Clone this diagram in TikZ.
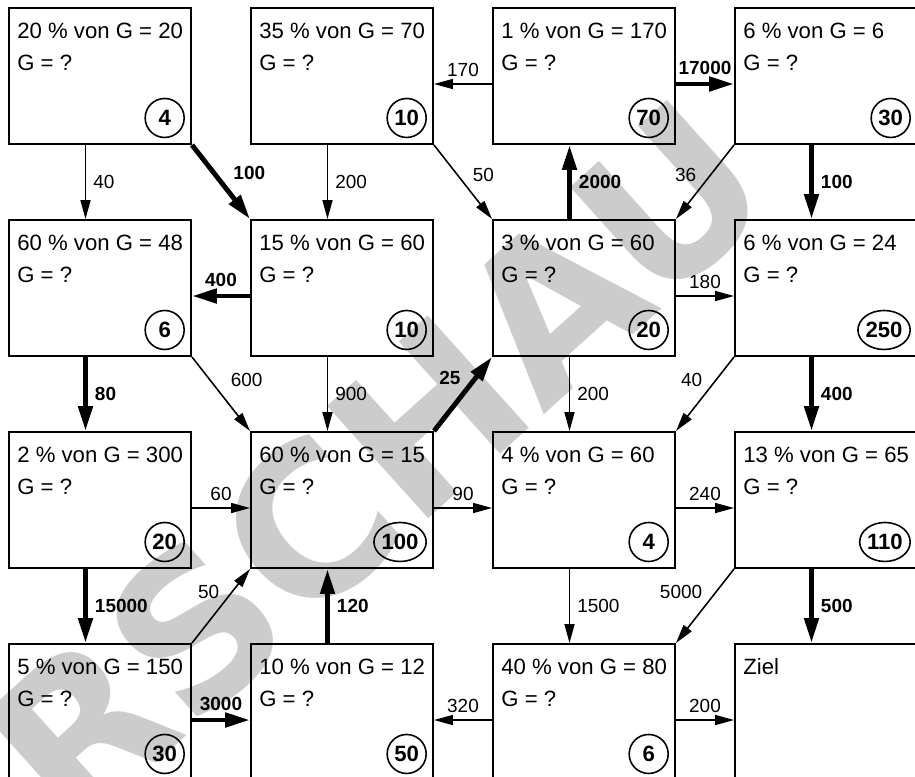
\documentclass[tikz,border=0pt]{standalone}
\usepackage{fontspec}
\setmainfont{Liberation Sans}
\newfontfamily\wzfont{DejaVu Sans}
\definecolor{wzgrau}{HTML}{CCCCCC}
\usetikzlibrary{positioning,arrows.meta,shapes.geometric,backgrounds}

\begin{document}
\begin{tikzpicture}[
  every node/.style={font=\fontsize{10.8}{13}\selectfont},
  feld/.style={rectangle, draw, line width=1.1pt, minimum width=3.64cm,
               minimum height=2.72cm, inner sep=0pt},
  aufg/.style={anchor=base west, align=left, inner sep=0pt,
               font=\fontsize{12.6}{18.2}\selectfont},
  zahl/.style={ellipse, draw, line width=0.9pt, minimum size=0.78cm, inner sep=0pt,
               anchor=east, font=\bfseries\fontsize{12.6}{14}\selectfont},
  duenn/.style={-{Triangle[length=0.38cm, width=0.2cm]}, line width=0.9pt},
  dick/.style={-{Triangle[length=0.5cm, width=0.28cm]}, line width=2.8pt},
  wert/.style={inner sep=0pt},
  fett/.style={inner sep=0pt, font=\bfseries\fontsize{10.8}{13}\selectfont}
]
  \useasboundingbox (0,0) rectangle (18.3,-15.52);

  \begin{scope}[on background layer]
    \node[rotate=42, text=wzgrau, inner sep=0pt,
          font=\wzfont\bfseries\fontsize{118}{118}\selectfont] (vorschau) at (5.06,-11.50) {VORSCHAU};
  \end{scope}

  \node[feld] (f11) at (2.00,-1.52) {};
  \node[aufg] (f11a) at ([shift={(0.18,-1.26)}]f11.north west) {20 \% von G = 20\\G = ?};
  \node[zahl] (f11z) at ([shift={(-0.14,0.54)}]f11.south east) {4};
  \node[feld] (f12) at (6.84,-1.52) {};
  \node[aufg] (f12a) at ([shift={(0.18,-1.26)}]f12.north west) {35 \% von G = 70\\G = ?};
  \node[zahl] (f12z) at ([shift={(-0.14,0.54)}]f12.south east) {10};
  \node[feld] (f13) at (11.68,-1.52) {};
  \node[aufg] (f13a) at ([shift={(0.18,-1.26)}]f13.north west) {1 \% von G = 170\\G = ?};
  \node[zahl] (f13z) at ([shift={(-0.14,0.54)}]f13.south east) {70};
  \node[feld] (f14) at (16.52,-1.52) {};
  \node[aufg] (f14a) at ([shift={(0.18,-1.26)}]f14.north west) {6 \% von G = 6\\G = ?};
  \node[zahl] (f14z) at ([shift={(-0.14,0.54)}]f14.south east) {30};

  \node[feld] (f21) at (2.00,-5.76) {};
  \node[aufg] (f21a) at ([shift={(0.18,-1.26)}]f21.north west) {60 \% von G = 48\\G = ?};
  \node[zahl] (f21z) at ([shift={(-0.14,0.54)}]f21.south east) {6};
  \node[feld] (f22) at (6.84,-5.76) {};
  \node[aufg] (f22a) at ([shift={(0.18,-1.26)}]f22.north west) {15 \% von G = 60\\G = ?};
  \node[zahl] (f22z) at ([shift={(-0.14,0.54)}]f22.south east) {10};
  \node[feld] (f23) at (11.68,-5.76) {};
  \node[aufg] (f23a) at ([shift={(0.18,-1.26)}]f23.north west) {3 \% von G = 60\\G = ?};
  \node[zahl] (f23z) at ([shift={(-0.14,0.54)}]f23.south east) {20};
  \node[feld] (f24) at (16.52,-5.76) {};
  \node[aufg] (f24a) at ([shift={(0.18,-1.26)}]f24.north west) {6 \% von G = 24\\G = ?};
  \node[zahl] (f24z) at ([shift={(-0.14,0.54)}]f24.south east) {250};

  \node[feld] (f31) at (2.00,-10.00) {};
  \node[aufg] (f31a) at ([shift={(0.18,-1.26)}]f31.north west) {2 \% von G = 300\\G = ?};
  \node[zahl] (f31z) at ([shift={(-0.14,0.54)}]f31.south east) {20};
  \node[feld] (f32) at (6.84,-10.00) {};
  \node[aufg] (f32a) at ([shift={(0.18,-1.26)}]f32.north west) {60 \% von G = 15\\G = ?};
  \node[zahl] (f32z) at ([shift={(-0.14,0.54)}]f32.south east) {100};
  \node[feld] (f33) at (11.68,-10.00) {};
  \node[aufg] (f33a) at ([shift={(0.18,-1.26)}]f33.north west) {4 \% von G = 60\\G = ?};
  \node[zahl] (f33z) at ([shift={(-0.14,0.54)}]f33.south east) {4};
  \node[feld] (f34) at (16.52,-10.00) {};
  \node[aufg] (f34a) at ([shift={(0.18,-1.26)}]f34.north west) {13 \% von G = 65\\G = ?};
  \node[zahl] (f34z) at ([shift={(-0.14,0.54)}]f34.south east) {110};

  \node[feld] (f41) at (2.00,-14.24) {};
  \node[aufg] (f41a) at ([shift={(0.18,-1.26)}]f41.north west) {5 \% von G = 150\\G = ?};
  \node[zahl] (f41z) at ([shift={(-0.14,0.54)}]f41.south east) {30};
  \node[feld] (f42) at (6.84,-14.24) {};
  \node[aufg] (f42a) at ([shift={(0.18,-1.26)}]f42.north west) {10 \% von G = 12\\G = ?};
  \node[zahl] (f42z) at ([shift={(-0.14,0.54)}]f42.south east) {50};
  \node[feld] (f43) at (11.68,-14.24) {};
  \node[aufg] (f43a) at ([shift={(0.18,-1.26)}]f43.north west) {40 \% von G = 80\\G = ?};
  \node[zahl] (f43z) at ([shift={(-0.14,0.54)}]f43.south east) {6};
  \node[feld] (f44) at (16.52,-14.24) {};
  \node[aufg] (f44a) at ([shift={(0.18,-0.62)}]f44.north west) {Ziel};

  \draw[duenn] ([xshift=-0.29cm]f11.south) -- node[wert, right=0.14cm]{40} ([xshift=-0.29cm]f21.north);
  \draw[dick] (f11.south east) -- node[fett, above right=0cm and 0.2cm]{100} (f22.north west);
  \draw[duenn] ([xshift=-0.29cm]f12.south) -- node[wert, right=0.14cm]{200} ([xshift=-0.29cm]f22.north);
  \draw[duenn] ([yshift=-0.16cm]f13.west) -- node[wert, above=0.14cm]{170} ([yshift=-0.16cm]f12.east);
  \draw[duenn] (f12.south east) -- node[wert, above right=0cm and 0.18cm]{50} (f23.north west);
  \draw[dick] ([xshift=-0.29cm]f23.north) -- node[fett, right=0.14cm]{2000} ([xshift=-0.29cm]f13.south);
  \draw[dick] ([yshift=-0.16cm]f13.east) -- node[fett, above=0.14cm]{17000} ([yshift=-0.16cm]f14.west);
  \draw[duenn] (f14.south west) -- node[wert, above left=0cm and 0.16cm]{36} (f23.north east);
  \draw[dick] ([xshift=-0.29cm]f14.south) -- node[fett, right=0.14cm]{100} ([xshift=-0.29cm]f24.north);

  \draw[dick] ([yshift=-0.16cm]f22.west) -- node[fett, above=0.14cm]{400} ([yshift=-0.16cm]f21.east);
  \draw[dick] ([xshift=-0.29cm]f21.south) -- node[fett, right=0.14cm]{80} ([xshift=-0.29cm]f31.north);
  \draw[duenn] (f21.south east) -- node[wert, above right=0.14cm and 0.18cm]{600} (f32.north west);
  \draw[duenn] ([xshift=-0.29cm]f22.south) -- node[wert, right=0.14cm]{900} ([xshift=-0.29cm]f32.north);
  \draw[dick] (f32.north east) -- node[fett, above left=0.14cm and 0cm]{25} (f23.south west);
  \draw[duenn] ([yshift=-0.16cm]f23.east) -- node[wert, above=0.14cm]{180} ([yshift=-0.16cm]f24.west);
  \draw[duenn] ([xshift=-0.29cm]f23.south) -- node[wert, right=0.14cm]{200} ([xshift=-0.29cm]f33.north);
  \draw[duenn] (f24.south west) -- node[wert, above left=0.14cm and 0.04cm]{40} (f33.north east);
  \draw[dick] ([xshift=-0.29cm]f24.south) -- node[fett, right=0.14cm]{400} ([xshift=-0.29cm]f34.north);

  \draw[duenn] ([yshift=-0.16cm]f31.east) -- node[wert, above=0.14cm]{60} ([yshift=-0.16cm]f32.west);
  \draw[duenn] ([yshift=-0.16cm]f32.east) -- node[wert, above=0.14cm]{90} ([yshift=-0.16cm]f33.west);
  \draw[duenn] ([yshift=-0.16cm]f33.east) -- node[wert, above=0.14cm]{240} ([yshift=-0.16cm]f34.west);
  \draw[dick] ([xshift=-0.29cm]f31.south) -- node[fett, right=0.14cm]{15000} ([xshift=-0.29cm]f41.north);
  \draw[duenn] (f41.north east) -- node[wert, above left=0.14cm and 0.02cm]{50} (f32.south west);
  \draw[dick] ([xshift=-0.29cm]f42.north) -- node[fett, right=0.14cm]{120} ([xshift=-0.29cm]f32.south);
  \draw[duenn] ([xshift=-0.29cm]f33.south) -- node[wert, right=0.14cm]{1500} ([xshift=-0.29cm]f43.north);
  \draw[duenn] (f34.south west) -- node[wert, above left=0.14cm and 0.04cm]{5000} (f43.north east);
  \draw[dick] ([xshift=-0.29cm]f34.south) -- node[fett, right=0.14cm]{500} ([xshift=-0.29cm]f44.north);

  \draw[dick] ([yshift=-0.16cm]f41.east) -- node[fett, above=0.14cm]{3000} ([yshift=-0.16cm]f42.west);
  \draw[duenn] ([yshift=-0.16cm]f43.west) -- node[wert, above=0.14cm]{320} ([yshift=-0.16cm]f42.east);
  \draw[duenn] ([yshift=-0.16cm]f43.east) -- node[wert, above=0.14cm]{200} ([yshift=-0.16cm]f44.west);
\end{tikzpicture}
\end{document}
